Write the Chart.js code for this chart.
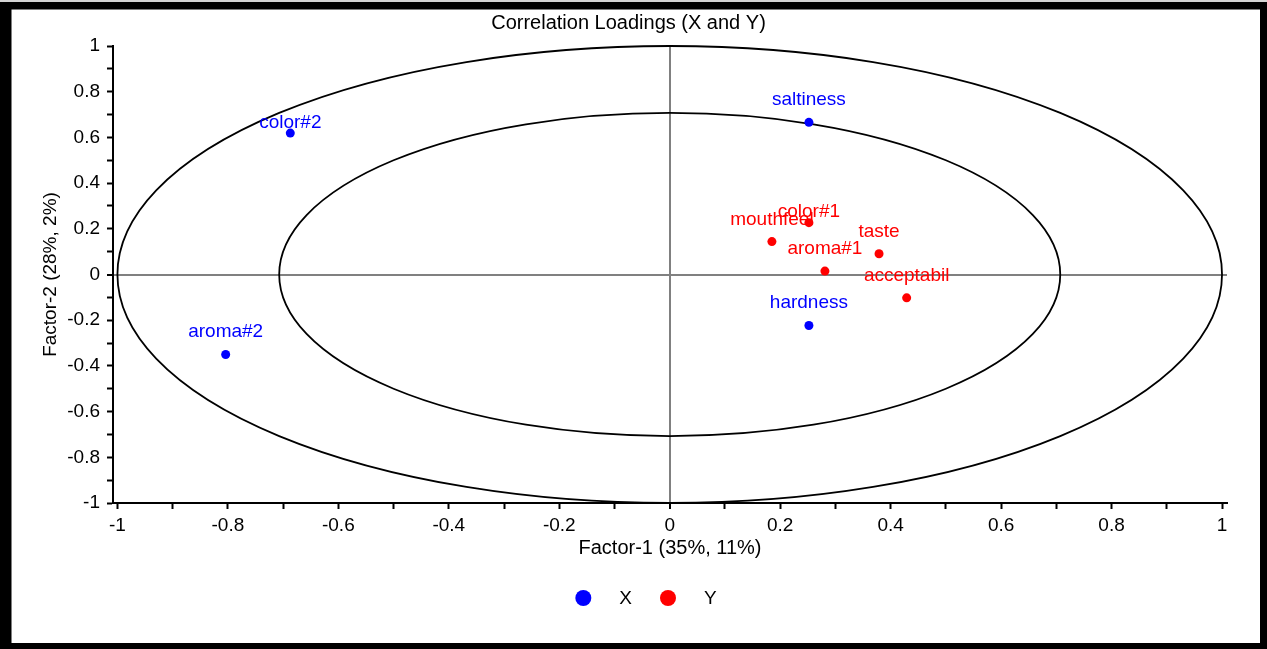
<!DOCTYPE html>
<html>
<head>
<meta charset="utf-8">
<script src="https://cdn.jsdelivr.net/npm/chart.js@4"></script>
<style>
  html, body { margin: 0; padding: 0; background: #fff; }
  #wrap { width: 1267px; height: 649px; }
</style>
</head>
<body>
<div id="wrap"><canvas id="loadings" width="1267" height="649"></canvas></div>
<script>
// X variables (blue)
var xNames = ["color#2", "saltiness", "aroma#2", "hardness"];
var xFactor1 = [-0.687, 0.252, -0.804, 0.252];
var xFactor2 = [0.619, 0.666, -0.350, -0.223];

// Y variables (red)
var yNames = ["mouthfeel", "color#1", "taste", "aroma#1", "acceptabil"];
var yFactor1 = [0.185, 0.252, 0.379, 0.281, 0.429];
var yFactor2 = [0.144, 0.227, 0.091, 0.015, -0.102];

// ellipses: 100% and 50% explained variance
var circleRadii = [1, 0.7071];

var tickValues = [-1, -0.9, -0.8, -0.7, -0.6, -0.5, -0.4, -0.3, -0.2, -0.1, 0,
                  0.1, 0.2, 0.3, 0.4, 0.5, 0.6, 0.7, 0.8, 0.9, 1];

var FONT = "'Liberation Sans', Arial, sans-serif";

// how far a label sits above its dot (px); a few were nudged down in the original
var labelLift = { "color#2": 5, "color#1": 6 };

function toPoints(a, b) {
    return a.map(function (v, i) { return { x: v, y: b[i] }; });
}

function tickLabel(value) {
    var t = Math.round(value * 10);
    if (t % 2 !== 0) return "";
    return String(t / 10);
}

function setTicks(scale) {
    scale.ticks = tickValues.map(function (v) { return { value: v }; });
}

var ellipsePlugin = {
    id: "ellipses",
    beforeDatasetsDraw: function (chart) {
        var ctx = chart.ctx, xs = chart.scales.x, ys = chart.scales.y;
        var cx = xs.getPixelForValue(0), cy = ys.getPixelForValue(0);
        ctx.save();
        ctx.strokeStyle = "#000";
        ctx.lineWidth = 1.8;
        circleRadii.forEach(function (r) {
            var rx = xs.getPixelForValue(r) - cx;
            var ry = cy - ys.getPixelForValue(r);
            ctx.beginPath();
            ctx.ellipse(cx, cy, rx, ry, 0, 0, Math.PI * 2);
            ctx.stroke();
        });
        ctx.restore();
    }
};

var pointLabelPlugin = {
    id: "pointLabels",
    afterDatasetsDraw: function (chart) {
        var ctx = chart.ctx;
        ctx.save();
        ctx.font = "19px " + FONT;
        ctx.textAlign = "center";
        ctx.textBaseline = "alphabetic";
        chart.data.datasets.forEach(function (ds, di) {
            var meta = chart.getDatasetMeta(di);
            ctx.fillStyle = ds.backgroundColor;
            meta.data.forEach(function (pt, i) {
                var name = ds.names[i];
                var lift = labelLift[name] !== undefined ? labelLift[name] : 17;
                ctx.fillText(name, pt.x, pt.y - lift);
            });
        });
        ctx.restore();
    }
};

var legendAndFramePlugin = {
    id: "legendFrame",
    afterDraw: function (chart) {
        var ctx = chart.ctx;
        var W = chart.width, H = chart.height;
        ctx.save();
        // legend
        ctx.font = "19px " + FONT;
        ctx.textBaseline = "middle";
        ctx.textAlign = "left";
        var r = 8, gap = 28, ly = 598;
        var items = chart.data.datasets.map(function (ds) {
            return { label: ds.label, color: ds.backgroundColor, w: ctx.measureText(ds.label).width };
        });
        var total = 0;
        items.forEach(function (it, i) { total += 2 * r + gap + it.w + (i < items.length - 1 ? gap : 0); });
        var x = 646 - total / 2;
        items.forEach(function (it) {
            ctx.fillStyle = it.color;
            ctx.beginPath();
            ctx.arc(x + r, ly, r, 0, Math.PI * 2);
            ctx.fill();
            x += 2 * r + gap;
            ctx.fillStyle = "#000";
            ctx.fillText(it.label, x, ly + 1);
            x += it.w + gap;
        });
        // outer frame
        ctx.fillStyle = "#d4d4d4";
        ctx.fillRect(0, 0, W, 2);
        ctx.fillStyle = "#000";
        ctx.fillRect(0, 2, W, 7.5);
        ctx.fillRect(0, 2, 11.5, H);
        ctx.fillRect(W - 7, 2, 7, H);
        ctx.fillRect(0, H - 6, W, 6);
        ctx.restore();
    }
};

var axisGrid = {
    drawOnChartArea: true,
    drawTicks: true,
    tickLength: 6,
    tickColor: "#000",
    tickWidth: 2,
    color: function (c) { return c.tick && c.tick.value === 0 ? "#808080" : "rgba(0,0,0,0)"; },
    lineWidth: function (c) { return c.tick && c.tick.value === 0 ? 2 : 1; }
};

document.addEventListener("DOMContentLoaded", function () {
    var ctx = document.getElementById("loadings").getContext("2d");
    new Chart(ctx, {
        type: "scatter",
        data: {
            datasets: [{
                label: "X",
                names: xNames,
                data: toPoints(xFactor1, xFactor2),
                backgroundColor: "#0000ff",
                borderColor: "#0000ff",
                pointRadius: 4.5,
                borderWidth: 0
            }, {
                label: "Y",
                names: yNames,
                data: toPoints(yFactor1, yFactor2),
                backgroundColor: "#ff0000",
                borderColor: "#ff0000",
                pointRadius: 4.5,
                borderWidth: 0
            }]
        },
        options: {
            responsive: false,
            animation: false,
            events: [],
            layout: { padding: { left: 30, right: 40, top: 11, bottom: 86 } },
            plugins: {
                legend: { display: false },
                tooltip: { enabled: false },
                title: {
                    display: true,
                    text: "Correlation Loadings (X and Y)",
                    color: "#000",
                    font: { family: FONT, size: 20, weight: "normal" },
                    padding: { top: 0, bottom: 11 }
                }
            },
            scales: {
                x: {
                    type: "linear",
                    min: -1.008,
                    max: 1.009,
                    afterBuildTicks: setTicks,
                    afterFit: function (s) { s.height = 60; },
                    border: { display: true, color: "#000", width: 2 },
                    grid: axisGrid,
                    ticks: {
                        autoSkip: false,
                        maxRotation: 0,
                        padding: 5,
                        color: "#000",
                        font: { family: FONT, size: 19 },
                        callback: tickLabel
                    },
                    title: {
                        display: true,
                        text: "Factor-1 (35%, 11%)",
                        color: "#000",
                        font: { family: FONT, size: 20 },
                        padding: { top: 0, bottom: 3 }
                    }
                },
                y: {
                    type: "linear",
                    min: -1,
                    max: 1,
                    afterBuildTicks: setTicks,
                    afterFit: function (s) { s.width = 83; },
                    border: { display: true, color: "#000", width: 2 },
                    grid: axisGrid,
                    ticks: {
                        autoSkip: false,
                        padding: 7,
                        color: "#000",
                        font: { family: FONT, size: 19 },
                        callback: tickLabel
                    },
                    title: {
                        display: true,
                        text: "Factor-2 (28%, 2%)",
                        color: "#000",
                        font: { family: FONT, size: 19 },
                        padding: { top: 9, bottom: 0 }
                    }
                }
            }
        },
        plugins: [ellipsePlugin, pointLabelPlugin, legendAndFramePlugin]
    });
});
</script>
</body>
</html>
